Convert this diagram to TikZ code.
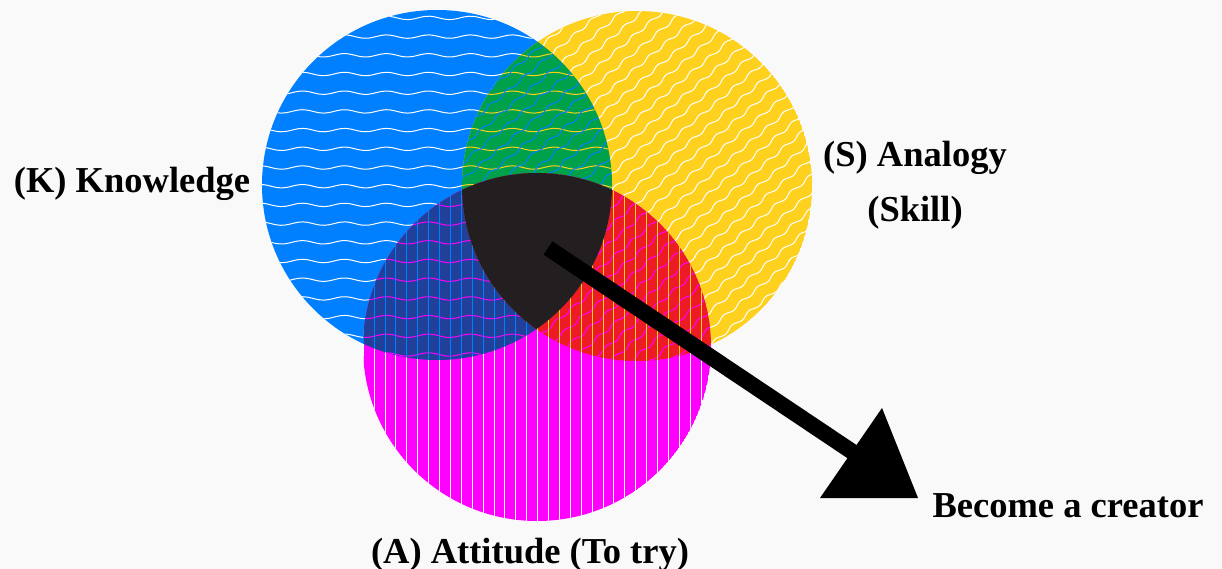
\documentclass[tikz,border=0pt]{standalone}
\usepackage{fontspec}
\setmainfont{Liberation Serif}
\usepackage{tikz}
\usetikzlibrary{positioning}
\definecolor{paper}  {HTML}{F9F9F9}
\definecolor{kblue}  {HTML}{0080FF}
\definecolor{sgold}  {HTML}{FFD11F}
\definecolor{amag}   {HTML}{FF00FF}
\definecolor{ksgreen}{HTML}{00A14B}
\definecolor{kanavy} {HTML}{21409A}
\definecolor{sared}  {HTML}{ED1C24}
\definecolor{kernel} {HTML}{231F20}
\tikzset{
  % --- labels
  lbl/.style   = {font=\fontsize{36.5}{55}\selectfont\bfseries, text=black,
                  align=center, inner sep=0pt},
  % --- hatching
  kwave/.style = {line width=1pt, domain=0:390, samples=90, smooth},
  swave/.style = {line width=1pt, domain=0:440, samples=200, smooth},
  aline/.style = {line width=0.9pt},
  % --- edges
  shaft/.style = {line width=16pt, draw=black},
}
% discs
\def\kdisc{(437,-185) circle[radius=175]}
\def\sdisc{(637,-186) circle[radius=175]}
\def\adisc{(537,-347) circle[radius=174]}
% hatching of each disc, in a given colour
\newcommand\kwaves[1]{\foreach \k [evaluate=\k as \yy using -74-18.7*\k] in {-4,...,16}
  \draw[kwave,draw=#1] plot ({250+\x},{\yy+1.7*sin(\x/42*360)});}
\newcommand\swaves[1]{\begin{scope}[rotate around={40:(637,-186)}]
  \foreach \k [evaluate=\k as \yy using -186+13*\k] in {-15,...,15}
    \draw[swave,draw=#1] plot ({417+\x},{\yy+1.5*sin(\x/22*360)});
  \end{scope}}
\newcommand\alines[1]{\foreach \k [evaluate=\k as \xx using 385+10.9*\k] in {-3,...,31}
  \draw[aline,draw=#1] (\xx,-165) -- (\xx,-530);}

\begin{document}
\begin{tikzpicture}[x=1pt,y=1pt]
  \fill[paper] (0,0) rectangle (1222,-569);
  \useasboundingbox (0,0) rectangle (1222,-569);

  % single discs
  \begin{scope} \clip \kdisc; \fill[kblue] \kdisc; \kwaves{white} \end{scope}
  \begin{scope} \clip \sdisc; \fill[sgold] \sdisc; \swaves{white} \end{scope}
  \begin{scope} \clip \adisc; \fill[amag] \adisc; \alines{white} \end{scope}

  % overlaps
  \begin{scope} \clip \kdisc; \clip \sdisc;
    \fill[ksgreen] (250,0) rectangle (820,-360); \kwaves{sgold} \swaves{kblue}
  \end{scope}
  \begin{scope} \clip \kdisc; \clip \adisc;
    \fill[kanavy] (250,0) rectangle (820,-530); \kwaves{amag} \alines{kblue}
  \end{scope}
  \begin{scope} \clip \sdisc; \clip \adisc;
    \fill[sared] (250,0) rectangle (820,-530); \swaves{amag} \alines{sgold}
  \end{scope}
  \begin{scope} \clip \kdisc; \clip \sdisc; \clip \adisc;
    \fill[kernel] (250,0) rectangle (820,-530);
  \end{scope}

  % arrow
  \coordinate (core) at (548,-248);
  \coordinate (head) at (872,-465);
  \coordinate (h1) at (882,-408);
  \coordinate (h2) at (820,-498);
  \coordinate (h3) at (918,-498);
  \draw[shaft] (core) -- (head);
  \fill[black] (h1) -- (h2) -- (h3) -- cycle;

  % labels
  \node[lbl,anchor=base] (know)  at (132,-193)  {(K) Knowledge};
  \node[lbl,anchor=base] (skill) at (915,-222)  {(S) Analogy\\(Skill)};
  \node[lbl,anchor=base] (att)   at (530,-563)  {(A) Attitude (To try)};
  \node[lbl,anchor=base] (goal)  at (1068,-517) {Become a creator};
\end{tikzpicture}
\end{document}
